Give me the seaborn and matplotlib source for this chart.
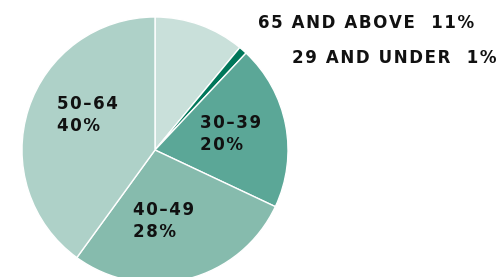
import matplotlib
matplotlib.use("Agg")
import matplotlib.pyplot as plt
import seaborn as sns

# age groups, share of total (%)
groups = ["65 AND ABOVE", "29 AND UNDER", "30–39", "40–49", "50–64"]
shares = [11, 1, 20, 28, 40]
colors = ["#c9e0da", "#00775a", "#5ba797", "#86bbad", "#aed1c8"]

sns.set_style("white")
plt.rcParams['font.family'] = ['DejaVu Sans']

fig = plt.figure(figsize=(5.02, 2.77), dpi=100)
# pie centre ~ (155,150) px, radius ~133 px
cx, cy, r = 155, 150, 133
W, H = 502, 277
ax = fig.add_axes([(cx - r) / W, (H - cy - r) / H, 2 * r / W, 2 * r / H])

ax.pie(shares, colors=colors, startangle=90, counterclock=False,
       wedgeprops=dict(edgecolor="white", linewidth=1.0), radius=1)
ax.set_xlim(-1, 1)
ax.set_ylim(-1, 1)
ax.set_aspect("equal")
ax.axis("off")

HS = "\u200a"  # hair space, for the wide letter spacing


def track(s):
    return HS.join(s)


def lab(i):
    return track(f"{groups[i]}  {shares[i]}%")


txt = dict(fontsize=12, fontweight="bold", color="#111111", clip_on=False)
ax.text(0.774, 0.955, lab(0), ha="left", va="center", **txt)
ax.text(1.030, 0.692, lab(1), ha="left", va="center", **txt)
ax.text(0.338, 0.12, track(groups[2]) + "\n" + track(f"{shares[2]}%"),
        ha="left", va="center", linespacing=1.3, **txt)
ax.text(-0.165, -0.534, track(groups[3]) + "\n" + track(f"{shares[3]}%"),
        ha="left", va="center", linespacing=1.3, **txt)
ax.text(-0.737, 0.263, track(groups[4]) + "\n" + track(f"{shares[4]}%"),
        ha="left", va="center", linespacing=1.3, **txt)

fig.savefig("out.png", dpi=100)
